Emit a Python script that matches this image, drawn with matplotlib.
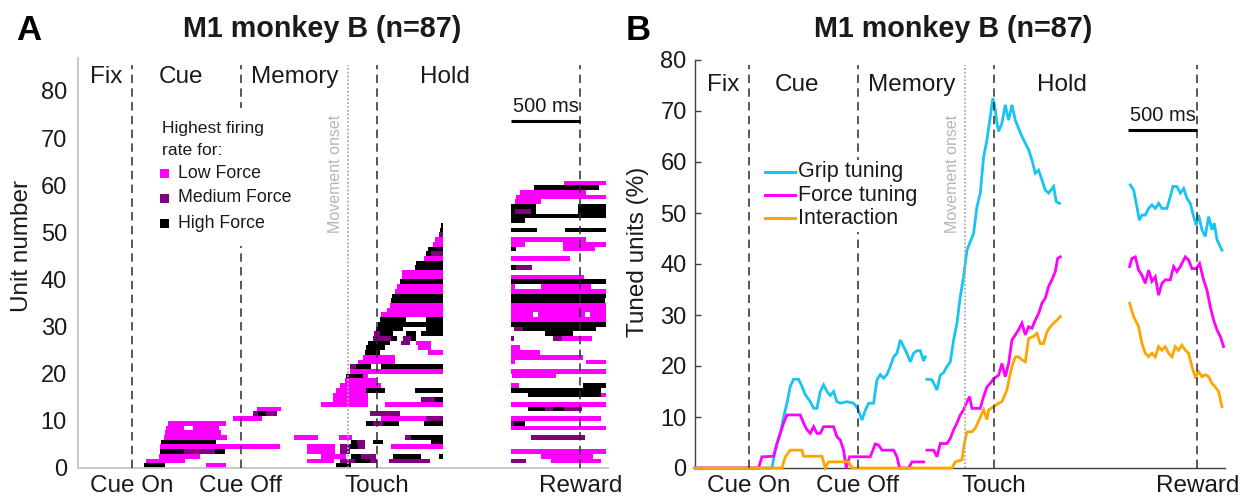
import numpy as np
import matplotlib
matplotlib.use("Agg")
import matplotlib.pyplot as plt
import matplotlib.transforms as mtransforms
from matplotlib.patches import Rectangle
from matplotlib.lines import Line2D

plt.rcParams['font.family'] = ['Liberation Sans', 'DejaVu Sans']

W, H = 1249, 499
nan = np.nan

# ---- task events (ms relative to cue onset) ----
event_names = ["Cue On", "Cue Off", "Touch", "Reward"]
event_times = [0, 785, 1764, 3230]
movement_onset = 1555
phase_names = ["Fix", "Cue", "Memory", "Hold"]
phase_centers = [-180, 352, 1172, 2258]
time_window = (-386, 3430)
scale_bar_ms = 500
n_units = 87

# ---- panel A: significant force-preference epochs per unit ----
# each entry: runs "<class><start>-<end>" in ms; L = low, M = medium, H = high force
hold_runs = [
    "H86-238 L533-677 H1469-1582",
    "L106-382 L1262-1454 M1502-1606 H1606-1714 M1714-1766 M1853-2146",
    "L197-490 L1366-1546 H1582-1654 M1654-1757 H1882-2086 H2213-2240",
    "H202-377 M377-598 H598-670 L1262-1462 M1498-1570",
    "L206-1066 L1265-1462 M1498-1570 H1570-1630 M1630-1678 L1870-2240",
    "H211-610 H1582-1626 M1626-1678 H1738-1810 H2158-2240",
    "L230-689 L1169-1342 L1490-1586 M1966-2014 H2014-2240",
    "L238-640",
    "L250-380 L440-630",
    "L262-677 H1685-1738 M1738-1810 H1810-1926 H2102-2240",
    "L730-941 L1798-2122 M2122-2240",
    "M874-910 H910-970 M970-1046 M1714-1930",
    "L902-1078",
    "L1366-1702 L1822-2240",
    "L1450-1700 M2086-2182 H2182-2240",
    "L1450-1702",
    "L1474-1690 H1690-1822 H2038-2240",
    "L1498-1798",
    "L1534-1762",
    "H1546-1666 L1666-1700",
    "L1570-2240",
    "M1570-1618 H1618-1726 H1798-2240",
    "L1630-1894",
    "L1666-1894",
    "H1678-1786 L2134-2240",
    "H1690-1822 L2062-2158",
    "H1702-1858 M1941-2002 L2050-2158",
    "M1738-1870 H1870-1910 M1954-2014 H2014-2050",
    "M1742-1786 H1786-1882 H1978-2050 H2086-2240",
    "H1762-1954 H2122-2240",
    "H1774-2240",
    "H1790-1978 H2122-2240",
    "L1798-2240",
    "L1838-2240",
    "L1858-2240",
    "H1870-2240",
    "H1877-2240",
    "L1894-2240",
    "L1910-2240",
    "H1934-2240",
    "L1949-2240",
    "L1949-2240",
    "H2038-2240",
    "H2050-2240",
    "L2102-2240",
    "H2117-2158 M2158-2240",
    "H2134-2240",
    "L2170-2240",
    "L2182-2240",
    "M2213-2240",
    "H2218-2240",
    "H2230-2240",
]

reward_runs = [
    "",
    "M2729-2842 L3022-3382",
    "L2950-3322",
    "L2729-3418",
    "",
    "",
    "M2878-3266",
    "",
    "L2729-3418",
    "M2729-2753 H2753-2834",
    "L2729-3382",
    "",
    "H2854-2974 M2974-3034 H3034-3113 M3113-3242",
    "L2729-3418",
    "",
    "H2854-3382 L3382-3418",
    "H2729-3382",
    "L2729-2786 H3250-3418",
    "",
    "L2738-3058",
    "L2729-3418",
    "",
    "L2729-2758 L3274-3418",
    "L2729-3250",
    "L2729-2938",
    "L2729-2794",
    "",
    "M2729-2753 M3034-3098 L3098-3314",
    "H2974-3178",
    "M2753-2818 H2818-3346",
    "H2729-3418",
    "L2729-3418",
    "L2729-2890 L2926-3262 L3300-3418",
    "L2729-3418",
    "L2729-3418",
    "H2729-3406",
    "H2729-3418",
    "L2729-3418",
    "L2729-2758 L2950-3305",
    "H2729-3418",
    "L2729-3257",
    "",
    "H2729-2770 M2770-2885",
    "",
    "L2729-3154",
    "",
    "H2729-2770 L3106-3334",
    "L2729-2830 L3106-3418",
    "L2729-3274",
    "",
    "H2729-2921 H3118-3418",
    "",
    "H2729-2830",
    "H2729-3418",
    "H2729-2758 M2758-2878 H2878-2914 H3214-3418",
    "H2729-2914 H3214-3418",
    "L2758-2950",
    "L2770-3418",
    "L2794-3274",
    "H2897-3362",
    "L3113-3418",
]

# ---- panel B: percentage of tuned units over time ----
grip_t = ([-386, 168, 192, 228, 252, 276, 300, 324, 360, 384, 408, 444, 468, 492,
           516, 540, 564, 588, 612, 636, 660, 708, 756, 785, 816, 840, 864, 900,
           924, 948, 972, 996, 1020, 1044, 1068, 1092, 1116, 1140, 1164, 1188,
           1212, 1236, 1260, 1272] + [nan] +
          [1284, 1320, 1344, 1356, 1380, 1404, 1428, 1452, 1476, 1500, 1524, 1548,
           1572, 1596, 1620, 1644, 1668, 1692, 1716, 1740, 1759, 1776, 1788, 1800,
           1824, 1848, 1872, 1896, 1920, 1944, 1968, 1992, 2016, 2040, 2064, 2088,
           2112, 2136, 2160, 2196, 2215, 2239] + [nan] +
          [2748, 2772, 2796, 2813, 2832, 2856, 2880, 2904, 2928, 2952, 2976, 3012,
           3036, 3055, 3084, 3108, 3132, 3156, 3180, 3204, 3223, 3240, 3264, 3288,
           3312, 3336, 3353, 3372, 3408])
grip_pct = ([0, 0, 3.5, 6.8, 10.0, 12.7, 16.0, 17.4, 17.4, 16.0, 14.4, 13.0, 11.7,
             11.7, 15.0, 16.3, 15.0, 14.2, 15.0, 13.0, 12.7, 13.0, 12.7, 11.7, 9.4,
             11.3, 12.7, 12.7, 17.3, 18.3, 17.6, 18.3, 19.9, 21.8, 22.5, 25.1, 23.8,
             22.5, 20.8, 22.5, 23.0, 23.0, 21.0, 21.8] + [nan] +
            [17.4, 17.3, 16.0, 15.3, 18.2, 18.7, 19.9, 20.8, 25.1, 28.4, 33.6, 37.5,
             42.7, 44.4, 46.0, 51.2, 53.9, 61.0, 64.3, 68.9, 72.5, 70.2, 67.6, 66.0,
             67.6, 71.2, 68.2, 71.2, 68.2, 66.6, 65.0, 63.7, 62.4, 60.4, 57.8, 58.4,
             56.5, 54.5, 53.9, 55.2, 52.2, 51.9] + [nan] +
            [55.5, 54.5, 51.2, 48.6, 49.6, 49.6, 50.9, 51.6, 50.9, 51.9, 50.9, 50.9,
             53.2, 55.2, 55.2, 53.9, 54.8, 52.9, 51.9, 49.3, 47.6, 49.6, 46.7, 45.4,
             49.3, 46.7, 48.0, 44.8, 42.7])

force_t = ([-386, 72, 96, 180, 204, 228, 252, 276, 372, 396, 420, 444, 468, 492,
            516, 540, 612, 636, 660, 684, 703, 727, 876, 912, 936, 960, 1044, 1068,
            1087, 1152, 1176, 1260] + [nan] +
           [1284, 1332, 1356, 1380, 1428, 1452, 1476, 1500, 1524, 1548, 1572, 1591,
            1608, 1668, 1692, 1716, 1740, 1764, 1800, 1824, 1848, 1872, 1896, 1920,
            1944, 1968, 1992, 2016, 2040, 2064, 2088, 2112, 2136, 2160, 2184, 2208,
            2225, 2244] + [nan] +
           [2743, 2760, 2784, 2808, 2832, 2856, 2880, 2904, 2928, 2952, 2976, 3000,
            3036, 3060, 3084, 3108, 3144, 3168, 3192, 3223, 3247, 3276, 3300, 3324,
            3348, 3372, 3396, 3420])
force_pct = ([0, 0, 2.2, 2.3, 4.8, 6.8, 8.8, 10.4, 10.4, 8.8, 7.5, 6.8, 8.1, 6.8,
              6.8, 8.1, 8.1, 6.1, 5.5, 3.5, 0, 2.2, 2.2, 4.7, 4.5, 3.5, 3.5, 2.2,
              0, 0, 1.2, 1.2] + [nan] +
             [3.5, 3.5, 2.2, 4.8, 4.8, 5.8, 7.5, 8.8, 10.4, 11.4, 13.0, 14.0, 11.7,
              11.7, 14.0, 15.9, 16.6, 17.5, 18.2, 20.5, 17.9, 20.5, 25.1, 26.1, 27.1,
              28.4, 26.1, 27.7, 27.4, 29.0, 30.3, 32.3, 33.3, 35.6, 36.9, 38.5, 41.1,
              41.4] + [nan] +
             [39.5, 41.1, 41.4, 38.8, 37.8, 36.2, 38.8, 36.6, 37.5, 33.9, 36.2, 36.9,
              36.9, 39.5, 38.5, 39.5, 41.4, 40.8, 39.1, 39.1, 40.1, 36.9, 34.9, 31.6,
              29.0, 27.1, 25.8, 23.8])

inter_t = ([-386, 240, 264, 300, 384, 396, 528, 552, 576, 720, 744, 1265] + [nan] +
           [1284, 1464, 1488, 1536, 1553, 1572, 1608, 1632, 1656, 1692, 1716, 1728,
            1764, 1800, 1824, 1860, 1879, 1896, 1920, 1944, 1968, 1992, 2016, 2052,
            2076, 2100, 2124, 2148, 2172, 2196, 2220, 2244] + [nan] +
           [2743, 2772, 2808, 2832, 2856, 2880, 2904, 2928, 2952, 2976, 3000, 3024,
            3048, 3072, 3096, 3120, 3144, 3168, 3192, 3216, 3240, 3264, 3288, 3312,
            3336, 3360, 3384, 3408])
inter_pct = ([0, 0, 2.2, 3.5, 3.5, 2.3, 2.3, 0, 1.2, 1.2, 0, 0] + [nan] +
             [0, 0, 1.2, 1.6, 4.8, 7.1, 7.1, 7.8, 9.2, 11.4, 9.5, 11.4, 12.0, 12.7,
              13.0, 15.3, 17.9, 19.9, 21.8, 21.8, 21.2, 20.8, 25.4, 25.8, 26.4, 24.4,
              24.4, 26.7, 27.7, 28.4, 29.0, 29.7] + [nan] +
             [32.3, 29.7, 27.7, 24.4, 22.5, 21.8, 22.5, 21.8, 23.8, 23.1, 23.8, 22.5,
              21.8, 23.8, 23.1, 24.1, 23.1, 22.5, 19.9, 17.9, 18.9, 17.9, 18.3, 17.9,
              16.6, 15.9, 15.0, 12.0])

force_labels = ["Low Force", "Medium Force", "High Force"]
force_colors = {"L": "#ff00ff", "M": "#800080", "H": "#000000"}
series_labels = ["Grip tuning", "Force tuning", "Interaction"]
series_colors = ["#18c4f2", "#ff00ff", "#ffa500"]

TXT = "#1a1a1a"
FS = 17.5


def fx(x):
    return x / W


def fy(y):
    return 1 - y / H


fig = plt.figure(figsize=(W / 100, H / 100), dpi=100)
axA = fig.add_axes([fx(78), fy(468), 530 / W, 410 / H])
axB = fig.add_axes([fx(695), fy(468), 530 / W, 408 / H])


def draw_runs(ax, rows):
    for unit, row in enumerate(rows, start=1):
        for tok in row.split():
            cls = tok[0]
            a, b = (float(v) for v in tok[1:].split("-"))
            ax.barh(unit - 0.5, b - a, left=a, height=1.0,
                    color=force_colors[cls], linewidth=0, antialiased=False,
                    zorder=2)


def decorate(ax, top_frac, label_frac, onset_text_frac):
    trans = mtransforms.blended_transform_factory(ax.transData, ax.transAxes)
    for t in event_times:
        ax.axvline(t, ymin=0, ymax=top_frac, color="#2b2b2b", lw=1.1,
                   dashes=(5.5, 3.5), zorder=4)
    ax.axvline(movement_onset, ymin=0, ymax=top_frac, color="#aaaaaa", lw=1.3,
               dashes=(1, 1.1), zorder=4)
    ax.text(movement_onset - 90, onset_text_frac, "Movement onset", rotation=90,
            ha="center", va="top", fontsize=11.5, color="#b5b5b5", transform=trans)
    for name, c in zip(phase_names, phase_centers):
        ax.text(c, label_frac, name, ha="center", va="center", fontsize=FS,
                color=TXT, transform=trans)
    ax.set_xlim(time_window)
    ax.set_xticks(event_times)
    ax.set_xticklabels(event_names)
    ax.tick_params(axis="x", length=0, labelsize=FS, pad=5, colors=TXT)
    for s in ("top", "right"):
        ax.spines[s].set_visible(False)


# ---------------- panel A ----------------
draw_runs(axA, hold_runs)
draw_runs(axA, reward_runs)
decorate(axA, 0.983, 0.954, 0.861)
axA.set_ylim(0, n_units)
axA.set_yticks(np.arange(0, 81, 10))
axA.tick_params(axis="y", length=0, labelsize=17, pad=8, colors=TXT)
for s in ("left", "bottom"):
    axA.spines[s].set_color("#c4c4c4")
    axA.spines[s].set_linewidth(1.3)
axA.set_ylabel("Unit number", fontsize=FS, color=TXT, va="center")
axA.yaxis.set_label_coords(-0.1066, 0.541)
axA.plot([event_times[-1] - scale_bar_ms, event_times[-1]], [73.6, 73.6],
         color="k", lw=2.2, solid_capstyle="butt", zorder=5)
axA.text(event_times[-1] - scale_bar_ms / 2, 74.6, "500 ms", ha="center",
         va="bottom", fontsize=14.5, color=TXT, zorder=5)

# ---------------- panel B ----------------
for t, v, c in zip([grip_t, force_t, inter_t], [grip_pct, force_pct, inter_pct],
                   series_colors):
    axB.plot(t, v, color=c, lw=2.0, zorder=3, solid_joinstyle="miter",
             clip_on=False)
decorate(axB, 0.988, 0.939, 0.865)
axB.set_ylim(0, 80)
axB.set_yticks(np.arange(0, 81, 10))
axB.tick_params(axis="y", direction="in", length=4.5, width=1, color="#404040",
                labelsize=17, pad=6, labelcolor=TXT)
for s in ("left", "bottom"):
    axB.spines[s].set_color("#404040")
    axB.spines[s].set_linewidth(1.0)
axB.set_ylabel("Tuned units (%)", fontsize=FS, color=TXT, va="center")
axB.yaxis.set_label_coords(-0.1075, 0.53)
axB.plot([event_times[-1] - scale_bar_ms, event_times[-1]], [66.3, 66.3],
         color="k", lw=2.2, solid_capstyle="butt", zorder=5)
axB.text(event_times[-1] - scale_bar_ms / 2, 67.3, "500 ms", ha="center",
         va="bottom", fontsize=14.5, color=TXT, zorder=5)

# ---------------- legends ----------------
fig.add_artist(Rectangle((fx(152), fy(246)), (300 - 152) / W, (246 - 108) / H,
                         transform=fig.transFigure, facecolor="white",
                         edgecolor="none", zorder=5))
fig.text(fx(162), fy(128), "Highest firing", fontsize=12.6, color=TXT,
         va="center", ha="left", zorder=6)
fig.text(fx(162), fy(150), "rate for:", fontsize=12.6, color=TXT,
         va="center", ha="left", zorder=6)
for lab, key, yy in zip(force_labels, ["L", "M", "H"], [173, 198, 223]):
    fig.add_artist(Rectangle((fx(160), fy(yy + 4.5)), 9 / W, 9 / H,
                             transform=fig.transFigure,
                             facecolor=force_colors[key], edgecolor="none",
                             zorder=6))
    fig.text(fx(178), fy(yy), lab, fontsize=12.8, color=TXT, va="center",
             ha="left", zorder=6)

fig.add_artist(Rectangle((fx(762), fy(232)), (925 - 762) / W, (232 - 160) / H,
                         transform=fig.transFigure, facecolor="white",
                         edgecolor="none", zorder=5))
for lab, col, yy in zip(series_labels, series_colors, [172, 195, 218]):
    fig.add_artist(Line2D([fx(765), fx(795)], [fy(yy), fy(yy)],
                          transform=fig.transFigure, color=col, lw=2.2,
                          zorder=6))
    fig.text(fx(798), fy(yy), lab, fontsize=15.5, color=TXT, va="center",
             ha="left", zorder=6)

# ---------------- titles ----------------
fig.text(fx(322.5), fy(29), "M1 monkey B (n=87)", fontsize=20.7,
         fontweight="bold", ha="center", va="center", color=TXT)
fig.text(fx(953), fy(29), "M1 monkey B (n=87)", fontsize=20.7,
         fontweight="bold", ha="center", va="center", color=TXT)
fig.text(fx(16), fy(30), "A", fontsize=25, fontweight="bold", ha="left",
         va="center", color="black")
fig.text(fx(626), fy(30), "B", fontsize=25, fontweight="bold", ha="left",
         va="center", color="black")

fig.savefig("out.png", dpi=100, facecolor="white")
